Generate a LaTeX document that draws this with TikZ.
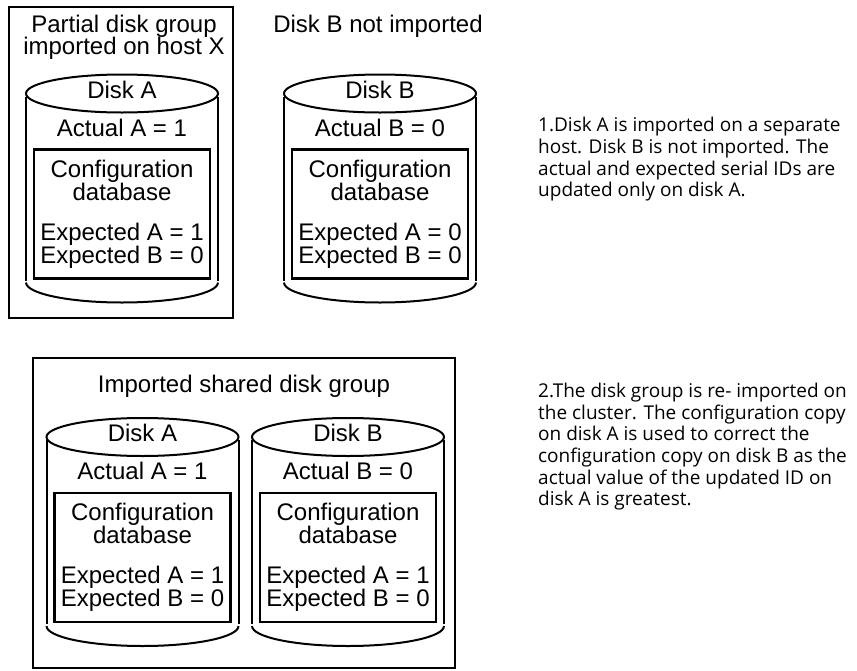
\documentclass[tikz,border=0pt]{standalone}
\usepackage{fontspec}
\setmainfont{Liberation Sans}
\newfontfamily\notefont{Open Sans}
\usepackage{tikz}

\begin{document}
\begin{tikzpicture}[
    x=1pt, y=-1pt,
    groupbox/.style={draw, line width=2.8pt},
    cfgbox/.style={draw, line width=2.6pt},
    drum/.style={draw, line width=2pt},
    disktext/.style={font=\fontsize{24}{23}\selectfont, inner sep=0pt, anchor=base},
    remark/.style={font=\notefont\fontsize{19}{21.7}\selectfont, inner sep=0pt, anchor=base west, align=left}
]

\useasboundingbox (0,0) rectangle (857,670);

\draw[groupbox] (9,7) rectangle (233,318);
\draw[groupbox] (33,358) rectangle (455,668);

\node[disktext] (ttl_partial) at (124,32) {Partial disk group};
\node[disktext] (ttl_host) at (124,54) {imported on host X};
\node[disktext] (ttl_notimp) at (378,32) {Disk B not imported};
\node[disktext] (ttl_shared) at (244,392) {Imported shared disk group};

\foreach \dn/\cx/\cy/\dk/\act/\ea/\eb in {
    a1/122/93.5/A/Actual A = 1/1/0,
    b1/380/93.5/B/Actual B = 0/0/0,
    a2/142.5/437/A/Actual A = 1/1/0,
    b2/348/437/B/Actual B = 0/1/0}{
  \draw[drum] (\cx,\cy) ellipse[x radius=96pt, y radius=19pt];
  \draw[drum] (\cx-96,\cy+3) -- (\cx-96,\cy+187);
  \draw[drum] (\cx+96,\cy+3) -- (\cx+96,\cy+187);
  \draw[drum] (\cx-96,\cy+189) arc[start angle=180, end angle=360, x radius=96pt, y radius=20pt];
  \draw[cfgbox] (\cx-88,\cy+56) rectangle (\cx+88,\cy+185);
  \node[disktext] (\dn_name) at (\cx,\cy+4.5) {Disk \dk};
  \node[disktext] (\dn_act) at (\cx,\cy+42.5) {\act};
  \node[disktext] (\dn_cfg) at (\cx,\cy+83.5) {Configuration};
  \node[disktext] (\dn_db) at (\cx,\cy+106.5) {database};
  \node[disktext] (\dn_expa) at (\cx,\cy+146.5) {Expected A = \ea};
  \node[disktext] (\dn_expb) at (\cx,\cy+169.5) {Expected B = \eb};
}

\node[remark] (note_one) at (538,196.8) {1.Disk A is imported on a separate\\host. Disk B is not imported. The\\actual and expected serial IDs are\\updated only on disk A.};
\node[remark] (note_two) at (538,505.8) {2.The disk group is re- imported on\\the cluster. The configuration copy\\on disk A is used to correct the\\configuration copy on disk B as the\\actual value of the updated ID on\\disk A is greatest.};

\end{tikzpicture}
\end{document}
